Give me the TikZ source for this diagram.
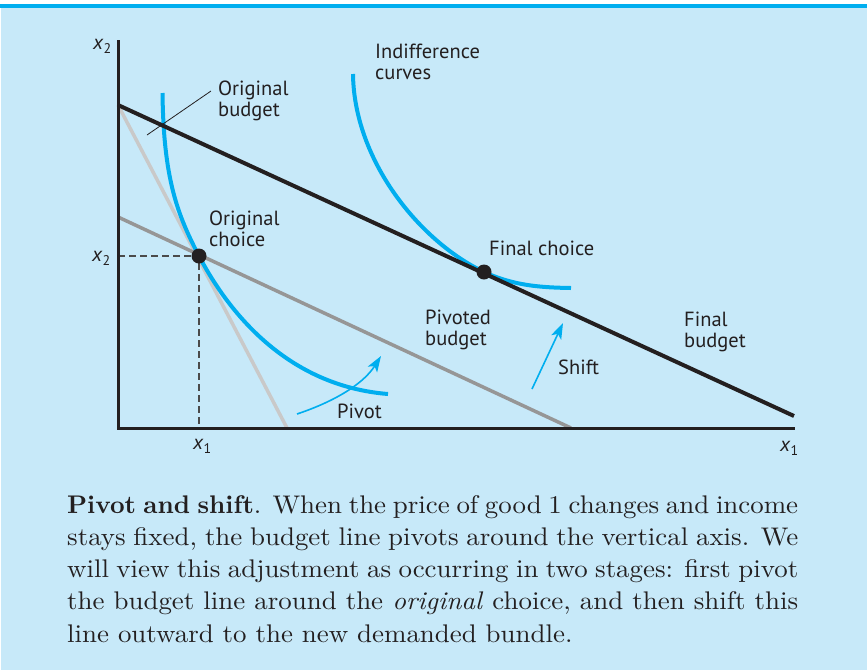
\documentclass[tikz,border=0pt]{standalone}
\usepackage{fontspec}
\setmainfont[BoldFont=lmroman10-bold.otf,ItalicFont=lmroman10-italic.otf,UprightFeatures={FakeStretch=1.055},ItalicFeatures={FakeStretch=1.055}]{lmroman10-regular.otf}
\newfontfamily\lblfont{PT Sans}
\usetikzlibrary{arrows.meta}
\definecolor{bgblue}{HTML}{C7E9F9}
\definecolor{cyanline}{HTML}{00AEEF}
\definecolor{inkblack}{HTML}{231F20}
\definecolor{lightgr}{HTML}{C9C9C9}
\definecolor{midgr}{HTML}{969696}
\definecolor{dashgr}{HTML}{4A4A4A}
\newcommand\xsub[1]{\textit{x}\raisebox{-0.45ex}{\fontsize{14}{14}\selectfont #1}}
\newcommand\lbltwo[2]{\begin{tabular}[t]{@{}l@{}}#1\\#2\end{tabular}}
\newcommand\capline[1]{\hbox to 731pt{#1}}
\tikzset{
  axisline/.style={draw=inkblack, line width=3pt},
  budgetline/.style={draw=inkblack, line width=4pt},
  greyline/.style={draw=lightgr, line width=3.5pt},
  pivotline/.style={draw=midgr, line width=3.5pt},
  icurve/.style={draw=cyanline, line width=4pt},
  guide/.style={draw=dashgr, line width=1.1pt, dash pattern=on 7pt off 4pt},
  movearrow/.style={draw=cyanline, line width=1.6pt, -{Stealth[length=16pt,width=11pt,inset=4pt]}},
  dotnode/.style={circle, fill=inkblack, minimum size=15pt, inner sep=0pt},
  lbl/.style={anchor=base west, inner sep=0pt, text=inkblack, font=\lblfont\fontsize{20.5}{21.5}\selectfont},
  pointer/.style={draw=inkblack, line width=0.8pt}
}
\begin{document}
\begin{tikzpicture}[x=1pt,y=-1pt]
\useasboundingbox (0,0) rectangle (867,670);
\fill[white] (0,0) rectangle (867,670);
\fill[bgblue] (1,7) rectangle (867,670);
\fill[cyanline] (0,3.5) rectangle (867,7.5);

% key coordinates
\coordinate (O) at (118,428);
\coordinate (ytop) at (118,40);
\coordinate (xend) at (795,428);
\coordinate (A) at (118,105);
\coordinate (B) at (794,416);
\coordinate (L) at (287,428);
\coordinate (P0) at (118,217);
\coordinate (P1) at (571,428);
\coordinate (C1) at (199,256);
\coordinate (C2) at (484,272);
\coordinate (C1x) at (199,428);
\coordinate (C1y) at (118,256);
\coordinate (I1a) at (162.5,93);
\coordinate (I1b) at (388,394);
\coordinate (I2a) at (353,74);
\coordinate (I2b) at (571,288);

% lines
\draw[greyline] (A) -- (L);
\draw[pivotline] (P0) -- (P1);
\draw[guide] (C1y) -- (C1) -- (C1x);

% indifference curves
\draw[icurve] (I1a) .. controls (163.5,178) and (177,214) .. (C1)
                    .. controls (229,313.3) and (288,386) .. (I1b);
\draw[icurve] (I2a) .. controls (354,160) and (419,241) .. (C2)
                    .. controls (514,285.8) and (541,287.5) .. (I2b);

\draw[budgetline] (A) -- (B);
\draw[axisline, line join=miter] (ytop) -- (O) -- (xend);

% dots
\node[dotnode] (oc) at (C1) {};
\node[dotnode] (fc) at (C2) {};

% pointer for original budget
\coordinate (ptA) at (147,135);
\coordinate (ptB) at (211,91);
\draw[pointer] (ptA) -- (ptB);

% arrows
\coordinate (pv0) at (297,414);
\coordinate (pv1) at (381,356);
\draw[movearrow] (pv0) .. controls (330,403) and (362,386) .. (pv1);
\coordinate (sh0) at (532,389);
\coordinate (sh1) at (563,323);
\draw[movearrow] (sh0) -- (sh1);

% labels
\node[lbl] (indiff) at (375,58) {\lbltwo{Indifference}{curves}};
\node[lbl] (origb) at (218,95) {\lbltwo{Original}{budget}};
\node[lbl] (origc) at (209,225) {\lbltwo{Original}{choice}};
\node[lbl] (finc) at (489,255) {Final choice};
\node[lbl] (pivb) at (425,324) {\lbltwo{Pivoted}{budget}};
\node[lbl] (shift) at (558,374) {Shift};
\node[lbl] (pivot) at (337,418) {Pivot};
\node[lbl] (finb) at (684,326) {\lbltwo{Final}{budget}};

\node[lbl] (x2top) at (93,49) {\xsub{2}};
\node[lbl] (x2left) at (92,261) {\xsub{2}};
\node[lbl] (x1bot) at (193,449) {\xsub{1}};
\node[lbl] (x1right) at (780,451) {\xsub{1}};

% caption
\node[anchor=base west, inner sep=0pt, text=inkblack] (caption) at (67,513) {\fontsize{25.5}{32.3}\selectfont\vtop{\hsize=731pt
\capline{\textbf{Pivot and shift}.\hskip 0.55em plus 0.2em minus 0.15em When the price of good 1 changes and income}
\capline{stays fixed, the budget line pivots around the vertical axis. We}
\capline{will view this adjustment as occurring in two stages: first pivot}
\capline{the budget line around the \textit{original} choice, and then shift this}
\hbox{line outward to the new demanded bundle.}}};
\end{tikzpicture}
\end{document}
